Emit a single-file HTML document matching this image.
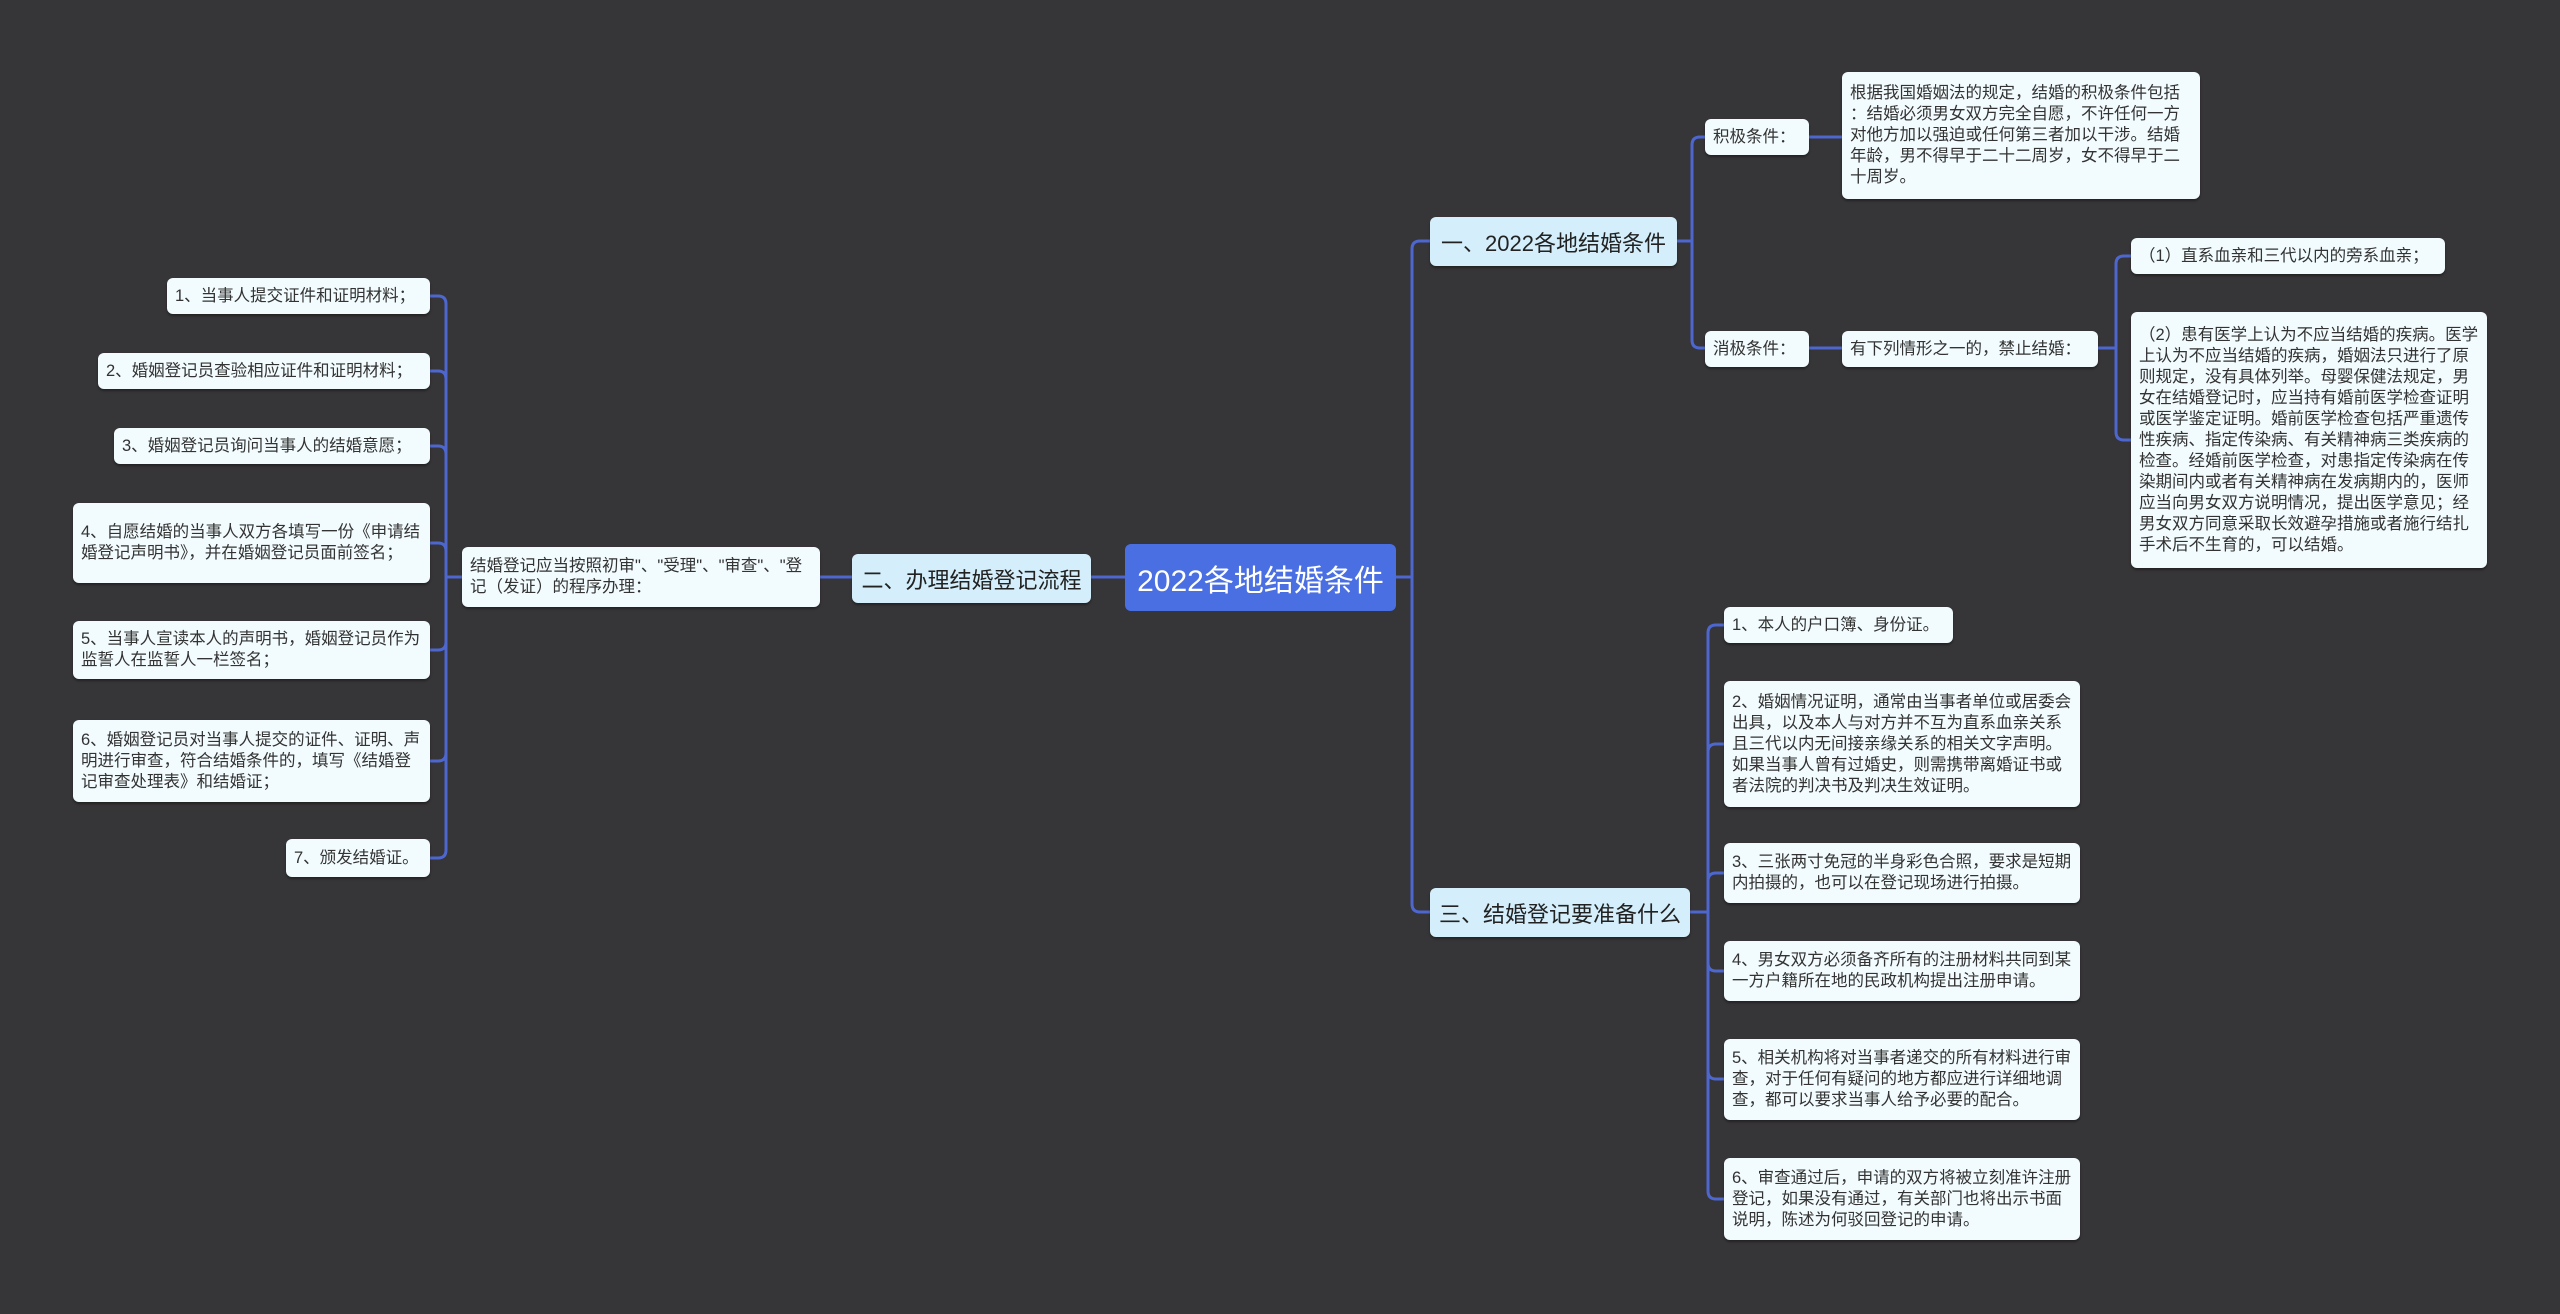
<!DOCTYPE html>
<html><head><meta charset="utf-8"><style>
body{margin:0;width:2560px;height:1314px;background:#363537;overflow:hidden;position:relative;font-family:"Liberation Sans","Noto Sans CJK SC",sans-serif;}
.b{position:absolute;box-sizing:border-box;display:flex;align-items:center;border-radius:6px;color:#333;}
.l{background:#f2fbfd;font-size:16.5px;line-height:21px;padding:0 8px;box-shadow:0 2px 2px rgba(0,0,0,.35);line-break:anywhere;}
.n{white-space:nowrap;}
.m{background:#d4effb;font-size:22px;justify-content:center;color:#222;box-shadow:0 2px 2px rgba(0,0,0,.35);}
.r{background:#4a6fe3;color:#fff;font-size:30px;justify-content:center;}
svg{position:absolute;left:0;top:0;}
</style></head><body>
<svg width="2560" height="1314" fill="none" stroke="#4d67cf" stroke-width="3">
<path d="M1396,577 H1412 V249 Q1412,241 1420,241 H1430"/>
<path d="M1396,577 H1412 V904 Q1412,912 1420,912 H1430"/>
<path d="M1125,577 H1091"/>
<path d="M852,577 H820"/>
<path d="M1677,241 H1692 V145 Q1692,137 1700,137 H1705"/>
<path d="M1677,241 H1692 V340 Q1692,348 1700,348 H1705"/>
<path d="M1809,137 H1842"/><path d="M1809,348 H1842"/>
<path d="M2098,348 H2116 V264 Q2116,256 2124,256 H2131"/>
<path d="M2098,348 H2116 V432 Q2116,440 2124,440 H2131"/>
<path d="M1690,912 H1708 V633 Q1708,625 1716,625 H1724"/>
<path d="M1690,912 H1708 V752 Q1708,744 1716,744 H1724"/>
<path d="M1690,912 H1708 V881 Q1708,873 1716,873 H1724"/>
<path d="M1690,912 H1708 V963 Q1708,971 1716,971 H1724"/>
<path d="M1690,912 H1708 V1071 Q1708,1079 1716,1079 H1724"/>
<path d="M1690,912 H1708 V1191 Q1708,1199 1716,1199 H1724"/>
<path d="M462,577 H446 V304 Q446,296 438,296 H430"/>
<path d="M462,577 H446 V379 Q446,371 438,371 H430"/>
<path d="M462,577 H446 V454 Q446,446 438,446 H430"/>
<path d="M462,577 H446 V551 Q446,543 438,543 H430"/>
<path d="M462,577 H446 V642 Q446,650 438,650 H430"/>
<path d="M462,577 H446 V753 Q446,761 438,761 H430"/>
<path d="M462,577 H446 V850 Q446,858 438,858 H430"/>
</svg>
<div class="b r" style="left:1125px;top:544px;width:271px;height:67px">2022各地结婚条件</div>
<div class="b m" style="left:1430px;top:217px;width:247px;height:49px">一、2022各地结婚条件</div>
<div class="b m" style="left:852px;top:554px;width:239px;height:49px">二、办理结婚登记流程</div>
<div class="b m" style="left:1430px;top:888px;width:260px;height:49px">三、结婚登记要准备什么</div>
<div class="b l n" style="left:1705px;top:119px;width:104px;height:36px">积极条件：</div>
<div class="b l" style="left:1842px;top:72px;width:358px;height:127px">根据我国婚姻法的规定，结婚的积极条件包括：结婚必须男女双方完全自愿，不许任何一方对他方加以强迫或任何第三者加以干涉。结婚年龄，男不得早于二十二周岁，女不得早于二十周岁。</div>
<div class="b l n" style="left:1705px;top:331px;width:104px;height:36px">消极条件：</div>
<div class="b l n" style="left:1842px;top:331px;width:256px;height:36px">有下列情形之一的，禁止结婚：</div>
<div class="b l n" style="left:2131px;top:238px;width:314px;height:36px">（1）直系血亲和三代以内的旁系血亲；</div>
<div class="b l" style="left:2131px;top:312px;width:356px;height:256px">（2）患有医学上认为不应当结婚的疾病。医学上认为不应当结婚的疾病，婚姻法只进行了原则规定，没有具体列举。母婴保健法规定，男女在结婚登记时，应当持有婚前医学检查证明或医学鉴定证明。婚前医学检查包括严重遗传性疾病、指定传染病、有关精神病三类疾病的检查。经婚前医学检查，对患指定传染病在传染期间内或者有关精神病在发病期内的，医师应当向男女双方说明情况，提出医学意见；经男女双方同意采取长效避孕措施或者施行结扎手术后不生育的，可以结婚。</div>
<div class="b l" style="left:462px;top:547px;width:358px;height:60px">结婚登记应当按照初审"、"受理"、"审查"、"登记（发证）的程序办理：</div>
<div class="b l n" style="left:167px;top:278px;width:263px;height:36px">1、当事人提交证件和证明材料；</div>
<div class="b l n" style="left:98px;top:353px;width:332px;height:36px">2、婚姻登记员查验相应证件和证明材料；</div>
<div class="b l n" style="left:114px;top:428px;width:316px;height:36px">3、婚姻登记员询问当事人的结婚意愿；</div>
<div class="b l" style="left:73px;top:503px;width:357px;height:80px">4、自愿结婚的当事人双方各填写一份《申请结婚登记声明书》，并在婚姻登记员面前签名；</div>
<div class="b l" style="left:73px;top:621px;width:357px;height:58px">5、当事人宣读本人的声明书，婚姻登记员作为监誓人在监誓人一栏签名；</div>
<div class="b l" style="left:73px;top:720px;width:357px;height:82px">6、婚姻登记员对当事人提交的证件、证明、声明进行审查，符合结婚条件的，填写《结婚登记审查处理表》和结婚证；</div>
<div class="b l n" style="left:286px;top:839px;width:144px;height:38px">7、颁发结婚证。</div>
<div class="b l n" style="left:1724px;top:607px;width:229px;height:36px">1、本人的户口簿、身份证。</div>
<div class="b l" style="left:1724px;top:681px;width:356px;height:126px">2、婚姻情况证明，通常由当事者单位或居委会出具，以及本人与对方并不互为直系血亲关系且三代以内无间接亲缘关系的相关文字声明。如果当事人曾有过婚史，则需携带离婚证书或者法院的判决书及判决生效证明。</div>
<div class="b l" style="left:1724px;top:843px;width:356px;height:60px">3、三张两寸免冠的半身彩色合照，要求是短期内拍摄的，也可以在登记现场进行拍摄。</div>
<div class="b l" style="left:1724px;top:941px;width:356px;height:60px">4、男女双方必须备齐所有的注册材料共同到某一方户籍所在地的民政机构提出注册申请。</div>
<div class="b l" style="left:1724px;top:1039px;width:356px;height:81px">5、相关机构将对当事者递交的所有材料进行审查，对于任何有疑问的地方都应进行详细地调查，都可以要求当事人给予必要的配合。</div>
<div class="b l" style="left:1724px;top:1158px;width:356px;height:82px">6、审查通过后，申请的双方将被立刻准许注册登记，如果没有通过，有关部门也将出示书面说明，陈述为何驳回登记的申请。</div>
</body></html>
